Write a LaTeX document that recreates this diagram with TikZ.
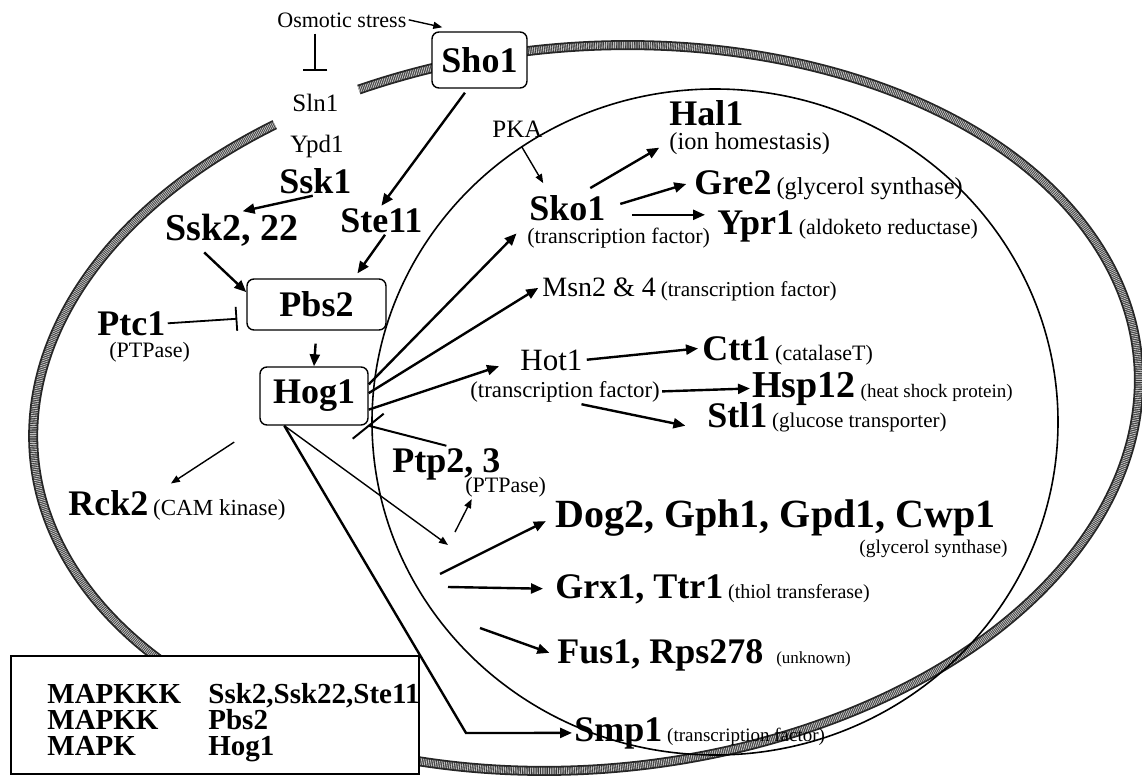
\documentclass[tikz,border=0pt]{standalone}
\usepackage{fontspec}
\setmainfont{Liberation Serif}
\usetikzlibrary{arrows.meta,positioning}
\newcommand{\fsz}[1]{\fontsize{#1}{#1}\selectfont}

\begin{document}
\begin{tikzpicture}[x=0.5pt,y=-0.5pt,
	gene/.style={font=\bfseries\fsz{18},inner sep=1pt,anchor=base west},
	plain/.style={inner sep=1pt,anchor=base west},
	kbox/.style={draw,line width=0.7pt,rounded corners=3.5pt,fill=white,font=\bfseries\fsz{18},inner sep=0pt},
	legend/.style={font=\bfseries\fsz{14.5},inner sep=0pt,anchor=base west},
	act/.style={line width=1.2pt,-{Triangle[length=6pt,width=5pt]}},
	thinact/.style={line width=0.7pt,-{Triangle[length=4.5pt,width=3.5pt]}},
	inh/.style={line width=0.9pt,-{Bar[width=12pt,line width=0.9pt]}},
	membrane/.style={line width=5pt,black!85},
	grain/.style={line width=3.2pt,black!25,dash pattern=on 0.45pt off 0.45pt}]
	\useasboundingbox (0,0) rectangle (1142,776);

	%CELL
	\begin{scope}
	\clip (0,0) rectangle (1142,776);
	\begin{scope}[shift={(586,408)},rotate=5]
	\draw[membrane] (-111:554 and 361) arc[start angle=-111,end angle=239,x radius=554,y radius=361];
	\draw[grain] (-111:554 and 361) arc[start angle=-111,end angle=239,x radius=554,y radius=361];
	\end{scope}
	\end{scope}
	\draw[line width=0.8pt] (715,422) ellipse [x radius=343,y radius=333];		%nucleus

	%SENSORS
	\node[plain,font=\fsz{11}] (stress) at (275,27) {Osmotic stress};
	\node[kbox,minimum width=47.5pt,minimum height=28pt] (sho1) at (479.5,60) {Sho1};
	\node[plain,font=\fsz{12.5}] (sln1) at (290,111) {Sln1};
	\node[plain,font=\fsz{12.5}] (ypd1) at (288,152) {Ypd1};
	\node[gene] (ssk1) at (277,193) {Ssk1};
	\node[gene,font=\bfseries\fsz{19}] (ssk2) at (163,240) {Ssk2, 22};
	\node[gene] (ste11) at (338,232) {Ste11};

	%MAPK CASCADE
	\node[kbox,minimum width=69.5pt,minimum height=25.5pt] (pbs2) at (316.5,304.5) {Pbs2};
	\node[kbox,minimum width=54pt,minimum height=29pt] (hog1) at (314,396) {Hog1};
	\node[gene] (ptc1) at (95,335) {Ptc1};
	\node[plain,font=\fsz{11}] (ptcnote) at (107,357) {(PTPase)};
	\node[gene] (rck2) at (66,515) {Rck2};
	\node[plain,font=\fsz{11.5}] (rcknote) at (rck2.base east) {(CAM kinase)};
	\node[gene] (ptp) at (390,472) {Ptp2, 3};
	\node[plain,font=\fsz{11}] (ptpnote) at (463,492) {(PTPase)};

	%NUCLEUS
	\node[plain,font=\fsz{12.5}] (pka) at (490,137) {PKA};
	\node[gene] (sko1) at (527,220) {Sko1};
	\node[plain,font=\fsz{11}] (skonote) at (525,243) {(transcription factor)};
	\node[gene] (hal1) at (667,125) {Hal1};
	\node[plain,font=\fsz{12.2}] (halnote) at (667,149) {(ion homestasis)};
	\node[plain,font=\fsz{14}] (msn) at (540,296) {Msn2 \& 4};
	\node[plain,font=\fsz{10.6}] (msnnote) at (msn.base east) {(transcription factor)};
	\node[plain,font=\fsz{15.5}] (hot1) at (518,370) {Hot1};
	\node[plain,font=\fsz{11.4}] (hotnote) at (468,397) {(transcription factor)};
	\node[gene,font=\bfseries\fsz{20}] (dog2) at (553,527) {Dog2, Gph1, Gpd1, Cwp1};
	\node[plain,font=\fsz{9.7},anchor=base east] (dognote) at (1010,553) {(glycerol synthase)};
	\node[gene] (fus1) at (555,663) {Fus1, Rps278};
	\node[plain,font=\fsz{8.5}] (fusnote) at ([xshift=4pt]fus1.base east) {(unknown)};
	\node[gene,font=\bfseries\fsz{19}] (hsp12) at (750,397) {Hsp12};
	\node[plain,font=\fsz{9.5}] (hsp12-n) at (hsp12.base east) {(heat shock protein)};
	\foreach \n/\x/\y/\g/\s/\t in {gre2/692/194/Gre2/12.2/(glycerol synthase),
		ypr1/715/234/Ypr1/11/(aldoketo reductase),ctt1/700/360/Ctt1/11/(catalaseT),
		stl1/705/427/Stl1/10.5/(glucose transporter),
		grx1/553/598/{Grx1, Ttr1}/10/(thiol transferase),smp1/572/741/Smp1/9.5/(transcription factor)}{
		\node[gene] (\n) at (\x,\y) {\g};
		\node[plain,font=\fsz{\s}] (\n-n) at (\n.base east) {\t};
	}

	%ARROWS -- cytoplasm
	\draw[thinact] (stress.east) -- ([xshift=5.5pt,yshift=2pt]sho1.north west);
	\draw[inh,shorten <=2pt,shorten >=10pt] (stress.south -| sln1.north) -- (sln1.north);
	\draw[act,shorten <=2.5pt] (sho1.-112) -- (ste11.north);
	\draw[act] (ssk1.-100) -- (ssk2.60);
	\draw[act,shorten <=3pt] (ssk2.-150) -- (pbs2.170);
	\draw[act,shorten >=3pt] (ste11.-76) -- (pbs2.35);
	\draw[inh,shorten >=4.5pt] (ptc1.east) -- (pbs2.191);
	\draw[act,shorten <=6.5pt] (pbs2.south) -- (hog1.north);
	\draw[thinact,shorten <=15pt,shorten >=12pt] (hog1.south west) -- (rcknote.north west);

	%ARROWS -- Hog1 to nucleus
	\draw[act,shorten >=7.5pt] (hog1.12) -- (sko1.south west);
	\draw[act,shorten >=1pt] (hog1.3) -- (msn.west);
	\draw[act,shorten >=10pt] (hog1.-14) -- (hot1.west);
	\draw[line width=1pt] (ptp.north) -- (hog1.south east);
	\draw[line width=1pt] ([shift={(-16,13)}]hog1.south east) -- ([shift={(15,-12)}]hog1.south east);
	\coordinate (ptpind) at (448,545);
	\coordinate (ptpup) at (455,532);
	\coordinate (dogfrom) at (440,574);
	\coordinate (grxfrom) at (448,587);
	\coordinate (fusfrom) at (480,628);
	\coordinate (smpbend) at (466,733);
	\draw[thinact] (hog1.-135) -- (ptpind);
	\draw[thinact] (ptpup) -- (ptpnote.200);
	\draw[act,shorten >=4pt] (dogfrom) -- (dog2.west);
	\draw[act,shorten >=5pt] (grxfrom) -- (grx1.west);
	\draw[act,shorten >=3pt] (fusfrom) -- (fus1.west);
	\draw[act] (hog1.-135) -- (smpbend) -- (smp1.west);

	%ARROWS -- targets
	\draw[thinact,shorten <=4.5pt,shorten >=5.5pt] (pka.south) -- (sko1.141);
	\draw[act,shorten <=4.5pt,shorten >=4.5pt] (sko1.45) -- (halnote.west);
	\draw[act,shorten <=6.5pt,shorten >=3pt] (sko1.east) -- (gre2.west);
	\draw[act,shorten <=12pt,shorten >=5pt] (sko1.-10) -- (sko1.-10 -| ypr1.west);
	\draw[act,shorten <=1pt,shorten >=1pt] (hot1.east) -- (ctt1.west);
	\draw[act] (hotnote.east) -- (hsp12.west);
	\draw[act,shorten >=10pt] (hotnote.-38) -- (stl1.south west);

	%LEGEND
	\node[draw,line width=0.8pt,fill=white,minimum width=204pt,minimum height=59pt,anchor=north west] (key) at (10,655) {};
	\foreach \k/\v [count=\i] in {MAPKKK/{Ssk2,Ssk22,Ste11},MAPKK/Pbs2,MAPK/Hog1}{
		\node[legend] (k\i) at (47,677+26*\i) {\k};
		\node[legend] (v\i) at (208,677+26*\i) {\v};
	}
\end{tikzpicture}
\end{document}
